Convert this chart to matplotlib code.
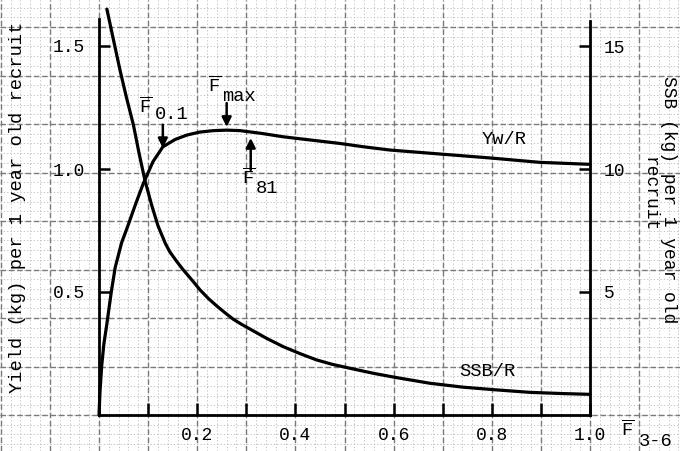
import numpy as np
import matplotlib
matplotlib.use("Agg")
import matplotlib.pyplot as plt

plt.rcParams['font.family'] = ['Liberation Mono', 'DejaVu Sans Mono']
plt.rcParams['mathtext.fontset'] = 'custom'
plt.rcParams['mathtext.rm'] = 'Liberation Mono'
plt.rcParams['mathtext.it'] = 'Liberation Mono'

# ---- data ----
f_yield = [0, 0.002, 0.0055, 0.010, 0.0157, 0.025, 0.033, 0.046, 0.059, 0.075, 0.09, 0.11,
           0.13, 0.155, 0.179, 0.205, 0.233, 0.26, 0.287, 0.33, 0.375, 0.43, 0.49, 0.54,
           0.593, 0.694, 0.796, 0.898, 1.0]
yield_per_recruit = [0, 0.094, 0.2, 0.29, 0.366, 0.50, 0.6, 0.70, 0.77, 0.86, 0.94, 1.03,
                     1.09, 1.12, 1.138, 1.150, 1.156, 1.158, 1.156, 1.145, 1.131, 1.118,
                     1.104, 1.090, 1.077, 1.061, 1.045, 1.027, 1.019]

f_ssb = [0.016, 0.03, 0.043, 0.056, 0.07, 0.082, 0.094, 0.107, 0.12, 0.135, 0.144, 0.158,
         0.172, 0.19, 0.206, 0.223, 0.24, 0.257, 0.273, 0.29, 0.307, 0.341, 0.375, 0.41,
         0.443, 0.475, 0.511, 0.56, 0.606, 0.674, 0.742, 0.81, 0.878, 0.946, 1.0]
ssb_per_recruit = [16.5, 15.2, 14.0, 12.9, 11.8, 10.6, 9.5, 8.55, 7.7, 6.98, 6.64, 6.25,
                   5.89, 5.47, 5.08, 4.73, 4.43, 4.15, 3.90, 3.69, 3.50, 3.12, 2.78, 2.49,
                   2.24, 2.06, 1.9, 1.69, 1.52, 1.29, 1.13, 1.02, 0.92, 0.87, 0.84]

x_ticks = [0.1, 0.2, 0.3, 0.4, 0.5, 0.6, 0.7, 0.8, 0.9, 1.0]
x_tick_labels = ['', '0.2', '', '0.4', '', '0.6', '', '0.8', '', '1.0']
left_ticks = [0.5, 1.0, 1.5]
left_tick_labels = ['0.5', '1.0', '1.5']
right_ticks = [5, 10, 15]
right_tick_labels = ['5', '10', '15']

ref_points = {'0.1': (0.13, 1.18, 1.085), 'max': (0.26, 1.268, 1.171), '81': (0.309, 0.996, 1.126)}

W, H = 680, 451
fig = plt.figure(figsize=(W / 100, H / 100), dpi=100)

# ---- graph-paper background ----
bg = fig.add_axes([0, 0, 1, 1], zorder=0)
bg.set_xlim(0, W)
bg.set_ylim(H, 0)
bg.axis('off')
for xv in np.arange(99 - 49.1 * 2, W, 49.1 / 5):
    bg.axvline(xv, color='#b8b8b8', lw=0.6, ls=(0, (1.5, 2.5)))
for yv in np.arange(415 + 48.5, -10, -48.5 / 5):
    bg.axhline(yv, color='#b8b8b8', lw=0.6, ls=(0, (1.5, 2.5)))
for xv in np.arange(99 - 49.1 * 2, W, 49.1):
    bg.axvline(xv, color='#7a7a7a', lw=1.0, ls=(0, (4, 2)))
for yv in np.arange(415 + 48.5, -10, -48.5):
    bg.axhline(yv, color='#7a7a7a', lw=1.0, ls=(0, (4, 2)))

# ---- main axes ----
x0, x1 = 99 / W, 590 / W
y0 = 1 - 415 / H
ymax = 1.65
ytop_px = 415 - ymax * 246
ax = fig.add_axes([x0, y0, x1 - x0, (415 - ytop_px) / H], zorder=2)
ax.patch.set_visible(False)
ax.set_xlim(0, 1.0)
ax.set_ylim(0, ymax)

ax.plot(f_yield, yield_per_recruit, color='black', lw=2.3, solid_capstyle='round',
        solid_joinstyle='round', clip_on=False)

ax2 = ax.twinx()
ax2.set_ylim(0, ymax * 10)
ax2.plot(f_ssb, ssb_per_recruit, color='black', lw=2.3, solid_capstyle='round',
         solid_joinstyle='round', clip_on=False)

for a in (ax, ax2):
    a.spines['top'].set_visible(False)
    for s in ('left', 'right', 'bottom'):
        a.spines[s].set_linewidth(2.0)
ax.spines['left'].set_bounds(0, 1.61)
ax.spines['right'].set_visible(False)
ax2.spines['left'].set_visible(False)
ax2.spines['bottom'].set_visible(False)
ax2.spines['right'].set_bounds(0, 16.0)

ax.set_xticks(x_ticks)
ax.set_xticklabels(x_tick_labels)
ax.set_yticks(left_ticks)
ax.set_yticklabels(left_tick_labels)
ax2.set_yticks(right_ticks)
ax2.set_yticklabels(right_tick_labels)
ax.tick_params(axis='x', direction='in', length=9, width=1.8, pad=9, labelsize=13)
ax.tick_params(axis='y', direction='in', length=8, width=1.8, pad=10, labelsize=13)
ax2.tick_params(axis='y', direction='in', length=8, width=1.8, pad=10, labelsize=13)

# ---- reference point arrows ----
for key, (fx, ys, ye) in ref_points.items():
    ax.annotate('', xy=(fx, ye), xytext=(fx, ys),
                arrowprops=dict(arrowstyle='-|>', color='black', lw=1.8,
                                mutation_scale=14, shrinkA=0, shrinkB=0))

ts = 13.5
ax.text(0.094, 1.255, r'$\overline{\mathrm{F}}$', fontsize=ts, ha='center', va='center')
ax.text(0.113, 1.22, '0.1', fontsize=ts, ha='left', va='center')
ax.text(0.236, 1.34, r'$\overline{\mathrm{F}}$', fontsize=ts, ha='center', va='center')
ax.text(0.25, 1.295, 'max', fontsize=ts, ha='left', va='center')
ax.text(0.305, 0.965, r'$\overline{\mathrm{F}}$', fontsize=ts, ha='center', va='center')
ax.text(0.32, 0.92, '81', fontsize=ts, ha='left', va='center')

ax.text(0.826, 1.12, 'Yw/R', fontsize=ts, ha='center', va='center')
ax.text(0.79, 0.175, 'SSB/R', fontsize=ts, ha='center', va='center')

# ---- axis labels ----
fig.text(18 / W, 1 - 207 / H, 'Yield (kg) per 1 year old recruit', rotation=90,
         fontsize=ts, ha='center', va='center')
fig.text(669 / W, 1 - 200 / H, 'SSB (kg) per 1 year old', rotation=-90,
         fontsize=13, ha='center', va='center')
fig.text(649 / W, 1 - 195 / H, 'recruit', rotation=-90,
         fontsize=13, ha='center', va='center')
fig.text(628 / W, 1 - 430 / H, r'$\overline{\mathrm{F}}$', fontsize=ts, ha='center', va='center')
fig.text(639 / W, 1 - 441 / H, '3-6', fontsize=ts, ha='left', va='center')

fig.savefig('out.png', dpi=100)
